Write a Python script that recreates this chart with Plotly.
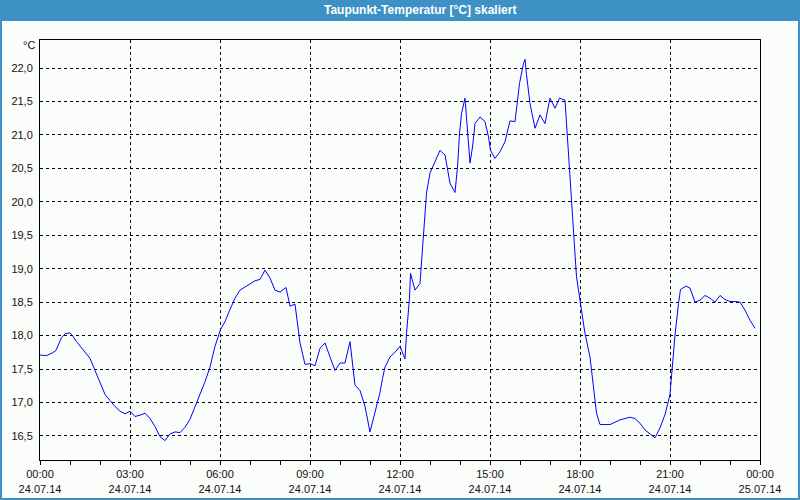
import pandas as pd
import plotly.graph_objects as go

# minutes after 2014-07-24 00:00
minutes = [0, 13, 27, 32, 43, 51, 60, 65, 73, 87, 100, 110, 120, 130, 140, 150, 160, 170, 180, 190,
           200, 210, 220, 230, 240, 250, 260, 270, 280, 290, 300, 310, 320, 330, 340, 350, 361, 370,
           380, 390, 400, 410, 420, 430, 440, 450, 460, 470, 480, 492, 500, 510, 520, 530, 540, 550,
           560, 570, 580, 590, 600, 610, 620, 630, 640, 650, 660, 670, 680, 685, 690, 700, 710, 720,
           730, 733, 739, 741, 750, 760, 763, 767, 770, 773, 780, 787, 800, 810, 820, 830, 835, 839,
           843, 850, 855, 860, 865, 870, 880, 890, 897, 901, 910, 920, 930, 940, 950, 959, 967, 970,
           973, 980, 990, 1000, 1010, 1020, 1030, 1039, 1050, 1055, 1060, 1065, 1070, 1073, 1080,
           1090, 1100, 1107, 1113, 1120, 1140, 1160, 1180, 1190, 1200, 1210, 1220, 1230, 1240, 1250,
           1260, 1265, 1270, 1277, 1281, 1292, 1300, 1310, 1320, 1330, 1340, 1350, 1360, 1370, 1380,
           1390, 1400, 1410, 1420, 1430]
taupunkt = [17.71, 17.70, 17.75, 17.78, 17.97, 18.03, 18.04, 18.00, 17.91, 17.78, 17.66, 17.48, 17.31,
            17.12, 17.03, 16.94, 16.87, 16.83, 16.87, 16.79, 16.81, 16.84, 16.76, 16.64, 16.49, 16.43,
            16.53, 16.56, 16.55, 16.63, 16.75, 16.93, 17.12, 17.31, 17.53, 17.84, 18.09, 18.21, 18.39,
            18.56, 18.68, 18.73, 18.78, 18.82, 18.84, 18.98, 18.86, 18.68, 18.65, 18.72, 18.44, 18.47,
            17.89, 17.57, 17.58, 17.55, 17.81, 17.89, 17.68, 17.48, 17.59, 17.59, 17.91, 17.26, 17.18,
            16.94, 16.56, 16.84, 17.15, 17.36, 17.53, 17.68, 17.75, 17.84, 17.65, 18.03, 18.56, 18.93,
            18.68, 18.78, 19.13, 19.55, 19.93, 20.13, 20.43, 20.55, 20.77, 20.70, 20.28, 20.14, 20.52,
            21.02, 21.32, 21.55, 21.07, 20.58, 20.82, 21.17, 21.27, 21.20, 20.97, 20.77, 20.65, 20.75,
            20.90, 21.21, 21.20, 21.77, 22.07, 22.13, 21.90, 21.47, 21.10, 21.30, 21.17, 21.55, 21.40,
            21.55, 21.52, 20.95, 20.53, 19.93, 19.38, 18.88, 18.53, 18.03, 17.68, 17.19, 16.84, 16.67,
            16.67, 16.74, 16.78, 16.76, 16.69, 16.59, 16.53, 16.47, 16.62, 16.82, 17.12, 17.55, 18.01,
            18.48, 18.69, 18.74, 18.71, 18.50, 18.53, 18.60, 18.56, 18.50, 18.60, 18.54, 18.51, 18.51,
            18.50, 18.38, 18.23, 18.11]

tick_times = ["2014-07-24 00:00", "2014-07-24 03:00", "2014-07-24 06:00", "2014-07-24 09:00",
              "2014-07-24 12:00", "2014-07-24 15:00", "2014-07-24 18:00", "2014-07-24 21:00",
              "2014-07-25 00:00"]
tick_labels = ["00:00<br>24.07.14", "03:00<br>24.07.14", "06:00<br>24.07.14", "09:00<br>24.07.14",
               "12:00<br>24.07.14", "15:00<br>24.07.14", "18:00<br>24.07.14", "21:00<br>24.07.14",
               "00:00<br>25.07.14"]
y_ticks = [16.5, 17.0, 17.5, 18.0, 18.5, 19.0, 19.5, 20.0, 20.5, 21.0, 21.5, 22.0]

title = "Taupunkt-Temperatur [°C] skaliert"
unit = "°C"

times = pd.Timestamp("2014-07-24 00:00") + pd.to_timedelta(minutes, unit="min")

fig = go.Figure()
fig.add_trace(go.Scatter(x=times, y=taupunkt, mode="lines",
                         line=dict(color="#0000ff", width=1), hoverinfo="skip"))

W, H = 800, 500
L, R, T, B = 40, 40, 40, 40
pw, ph = W - L - R, H - T - B

def px(xp):
    return (xp - L) / pw

def py(yp):
    return (H - B - yp) / ph

font = "Liberation Sans"
fig.update_layout(
    width=W, height=H,
    margin=dict(l=L, r=R, t=T, b=B, autoexpand=False),
    paper_bgcolor="#fbfdfb", plot_bgcolor="#fbfdfb",
    separators=",.",
    showlegend=False,
    font=dict(family=font, size=11, color="#111111"),
    xaxis=dict(
        range=[tick_times[0], tick_times[-1]],
        tickvals=tick_times, ticktext=tick_labels,
        showgrid=True, gridcolor="#000000", gridwidth=1, griddash="dot",
        showline=True, linecolor="#000000", linewidth=1, mirror=True,
        ticks="outside", ticklen=4, tickcolor="#000000",
        minor=dict(dtick=3600000, ticks="outside", ticklen=4, tickcolor="#000000", showgrid=False),
        zeroline=False, tickfont=dict(family=font, size=11, color="#111111"),
    ),
    yaxis=dict(
        range=[16.14, 22.42],
        tickvals=y_ticks, tickformat=".1f",
        showgrid=True, gridcolor="#000000", gridwidth=1, griddash="dot",
        showline=True, linecolor="#000000", linewidth=1, mirror=True,
        ticks="", zeroline=False, ticklabelstandoff=4,
        tickfont=dict(family=font, size=11, color="#111111"),
    ),
    shapes=[
        dict(type="rect", xref="paper", yref="paper",
             x0=px(0), x1=px(W), y0=py(21), y1=py(0),
             fillcolor="#3d91c4", line=dict(width=0), layer="above"),
        dict(type="rect", xref="paper", yref="paper",
             x0=px(1), x1=px(W - 1), y0=py(H - 1), y1=py(10),
             fillcolor="rgba(0,0,0,0)", line=dict(color="#3d91c4", width=2), layer="above"),
    ],
    annotations=[
        dict(text="<b>" + title + "</b>", xref="paper", yref="paper",
             x=px(420), y=py(10), xanchor="center", yanchor="middle", showarrow=False,
             font=dict(family=font, size=12, color="#ffffff")),
        dict(text=unit, xref="paper", yref="paper",
             x=px(37), y=py(45), xanchor="right", yanchor="middle", showarrow=False,
             font=dict(family=font, size=11, color="#111111")),
    ],
)

fig.write_html("out.html", config={"displayModeBar": False},
               post_script="document.body.style.margin='0';document.body.style.overflow='hidden';")
